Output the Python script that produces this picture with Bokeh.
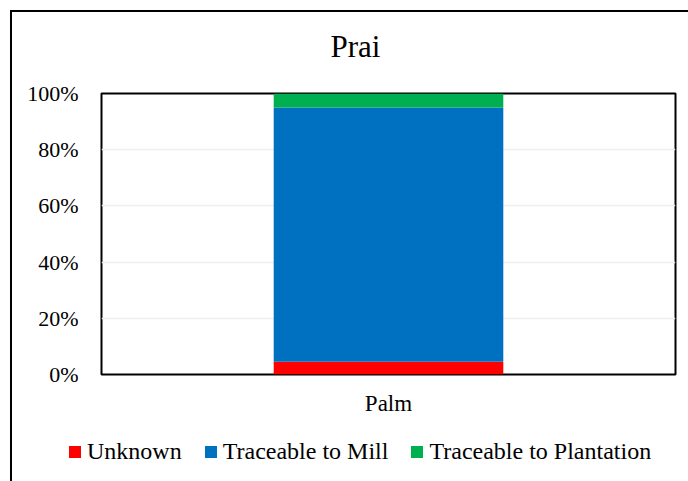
from bokeh.plotting import figure
from bokeh.layouts import column
from bokeh.models import (ColumnDataSource, FactorRange, Range1d, FixedTicker,
                          NumeralTickFormatter, Legend, Label)
from bokeh.embed import file_html
from bokeh.resources import INLINE

# ---- data ----
categories = ["Palm"]
unknown = [0.045]
mill = [0.905]
plantation = [0.05]
series_names = ["Unknown", "Traceable to Mill", "Traceable to Plantation"]
series_keys = ["unknown", "mill", "plantation"]
colors = ["#FF0000", "#0070C0", "#00B050"]
y_ticks = [0, 0.2, 0.4, 0.6, 0.8, 1.0]
title_text = "Prai"

FONT = "Liberation Serif"
W = 676

source = ColumnDataSource(dict(cat=categories, unknown=unknown, mill=mill,
                               plantation=plantation))

# ---- title strip ----
p0 = figure(width=W, height=60, x_range=Range1d(0, 1), y_range=Range1d(0, 1),
            output_backend="svg", toolbar_location=None, title=None,
            x_axis_type=None, y_axis_type=None, min_border=0)
if "frame_align" in p0.properties():
    p0.frame_align = False
p0.outline_line_color = None
p0.grid.visible = False
p0.add_layout(Label(x=343, y=26, x_units="screen", y_units="screen",
                    text=title_text, text_font=FONT, text_font_size="31px",
                    text_align="center", text_baseline="alphabetic",
                    text_color="#000000"))

# ---- main chart ----
p = figure(x_range=FactorRange(*categories), y_range=Range1d(0, 1),
           width=W, height=360, output_backend="svg", toolbar_location=None,
           title=None, min_border_left=89, min_border_right=13,
           min_border_top=21, min_border_bottom=58)
if "frame_align" in p.properties():
    p.frame_align = False

renderers = p.vbar_stack(series_keys, x="cat", width=0.4, source=source,
                         color=colors, line_color=None)

p.outline_line_color = "#000000"
p.outline_line_width = 2

p.xgrid.grid_line_color = None
p.ygrid.grid_line_color = "#EFEFEF"
p.ygrid.grid_line_width = 1.5
p.ygrid.ticker = FixedTicker(ticks=y_ticks)

p.yaxis.ticker = FixedTicker(ticks=y_ticks)
p.yaxis.formatter = NumeralTickFormatter(format="0%")
for ax in (p.xaxis[0], p.yaxis[0]):
    ax.axis_line_color = None
    ax.major_tick_line_color = None
    ax.minor_tick_line_color = None
    ax.major_tick_out = 0
    ax.major_tick_in = 0
    ax.major_label_text_font = FONT
    ax.major_label_text_color = "#000000"
p.yaxis.major_label_text_font_size = "22px"
p.yaxis.major_label_standoff = 23
p.xaxis.major_label_text_font_size = "23px"
p.xaxis.major_label_standoff = 16

# ---- legend strip (own small figure; its bars lie outside its y range) ----
p2 = figure(width=W, height=49, x_range=p.x_range, y_range=Range1d(2, 3),
            output_backend="svg", toolbar_location=None, title=None,
            x_axis_type=None, y_axis_type=None, min_border=0)
if "frame_align" in p2.properties():
    p2.frame_align = False
p2.outline_line_color = None
p2.grid.visible = False
legend_renderers = p2.vbar_stack(series_keys, x="cat", width=0.4, source=source,
                                 color=colors, line_color=None)

legend = Legend(items=[(n, [r]) for n, r in zip(series_names, legend_renderers)],
                orientation="horizontal", location=(55, 16),
                glyph_width=15, glyph_height=15, label_standoff=5, spacing=21,
                padding=0, margin=0, border_line_color=None,
                background_fill_alpha=0, label_text_font=FONT,
                label_text_font_size="24px", label_text_color="#000000")
p2.add_layout(legend, "center")

layout = column(p0, p, p2, spacing=0,
                styles={"border-left": "2px solid #000", "border-top": "2px solid #000",
                        "margin-left": "10px", "margin-top": "10px"})

open("out.html", "w").write(file_html(layout, INLINE))
